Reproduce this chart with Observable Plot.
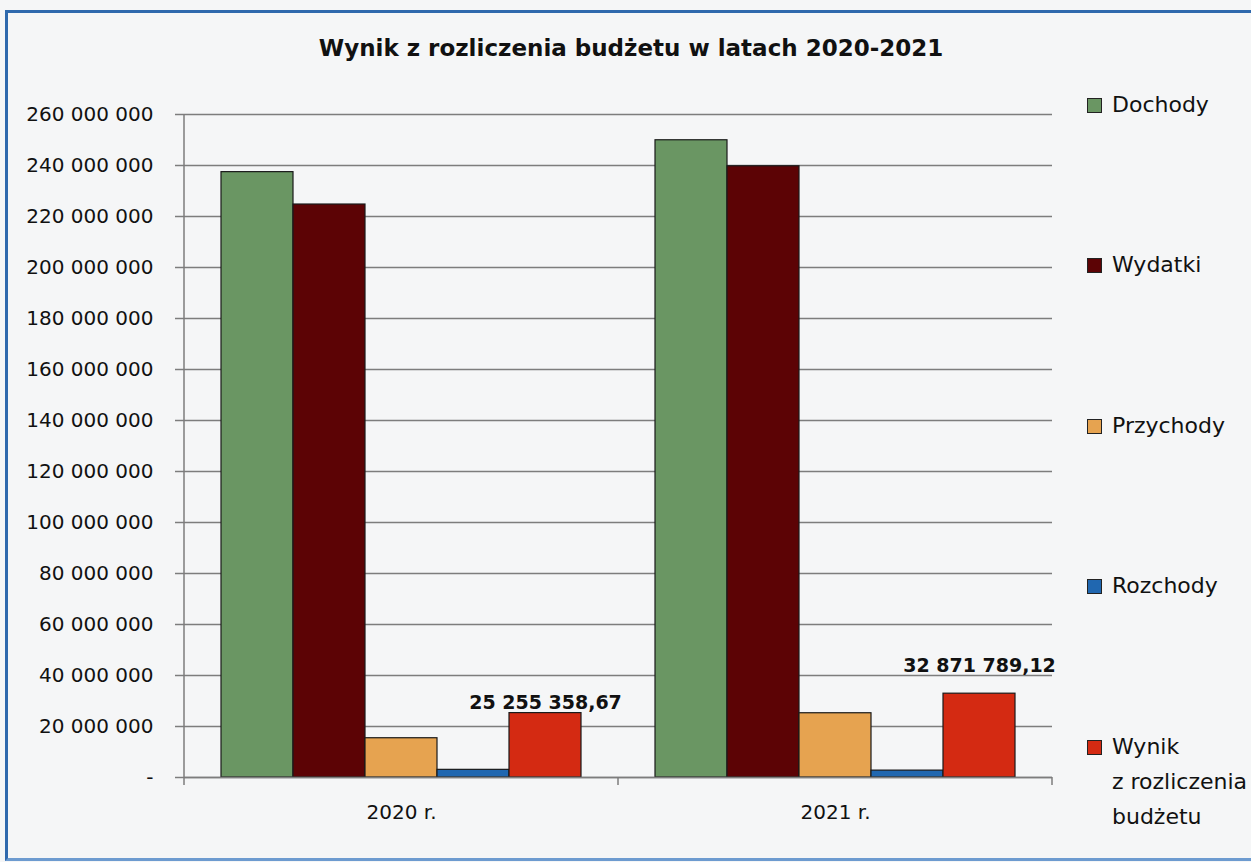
<!DOCTYPE html>
<html><head><meta charset="utf-8">
<script src="https://cdn.jsdelivr.net/npm/d3@7"></script>
<script src="https://cdn.jsdelivr.net/npm/@observablehq/plot@0.6"></script>
<style>
html,body{margin:0;padding:0;background:#f5f6f7;}
#wrap{position:relative;width:1251px;height:862px;overflow:hidden;background:#f5f6f7;font-family:"DejaVu Sans",sans-serif;color:#111;}
#border{position:absolute;left:5px;top:10px;width:1270px;height:845px;border:3px solid #2f69ad;border-right:none;border-bottom-color:#6d9bd0;}
#title{position:absolute;left:0;width:1262px;top:34px;line-height:28px;text-align:center;font-weight:bold;font-size:23px;color:#111;}
#chart{position:absolute;left:0;top:0;}
#legend{position:absolute;left:1087px;top:0;}
.item{position:absolute;left:0;display:flex;align-items:flex-start;font-size:22px;line-height:35px;color:#111;white-space:nowrap;}
.sw{width:13px;height:13px;border:1px solid #222;margin-top:11px;margin-right:10px;flex:none;}
</style>
</head><body>
<div id="wrap">
  <div id="border"></div>
  <div id="title">Wynik z rozliczenia budżetu w latach 2020-2021</div>
  <div id="chart"></div>
  <div id="legend"></div>
</div>
<script>
const years = ["2020 r.", "2021 r."];
const series = ["Dochody", "Wydatki", "Przychody", "Rozchody", "Wynik z rozliczenia budżetu"];
const legendLabels = ["Dochody", "Wydatki", "Przychody", "Rozchody", "Wynik<br>z rozliczenia<br>budżetu"];
const colors = ["#6a9663", "#5c0305", "#e6a350", "#2067b0", "#d42a12"];
const values2020 = [237400000, 224700000, 15400000, 3000000, 25255358.67];
const values2021 = [249900000, 239700000, 25200000, 2700000, 32871789.12];
const yTicks = [0, 20000000, 40000000, 60000000, 80000000, 100000000, 120000000, 140000000, 160000000, 180000000, 200000000, 220000000, 240000000, 260000000];

const valuesByYear = [values2020, values2021];
const data = years.flatMap((yr, yi) => series.map((s, si) => ({year: yr, series: s, value: valuesByYear[yi][si]})));

const pl = d3.formatLocale({decimal: ",", thousands: "\u00a0", grouping: [3], currency: ["", ""]});
const fmtInt = pl.format(",.0f");
const fmtDec = pl.format(",.2f");
const tickFmt = d => d === 0 ? "-" : fmtInt(d);

const wynik = series[4];
const w2020 = data.filter(d => d.series === wynik && d.year === years[0]);
const w2021 = data.filter(d => d.series === wynik && d.year === years[1]);

const gridColor = "#7d7d7d";

const plot = Plot.plot({
  width: 1251,
  height: 862,
  marginLeft: 183,
  marginRight: 199,
  marginTop: 114,
  marginBottom: 85,
  style: {background: "transparent", fontFamily: "DejaVu Sans", fontSize: "20px", color: "#111", overflow: "visible"},
  fx: {domain: years, padding: 0, label: null},
  x: {domain: series, paddingInner: 0, paddingOuter: 0.5, axis: null},
  y: {domain: [0, 260000000], label: null},
  color: {domain: series, range: colors},
  marks: [
    Plot.gridY(yTicks, {stroke: gridColor, strokeOpacity: 1, strokeWidth: 1.5}),
    Plot.barY(data, {fx: "year", x: "series", y: "value", fill: "series", stroke: "#1a1a1a", strokeWidth: 1.2}),
    Plot.ruleY([0], {stroke: gridColor, strokeWidth: 1.5}),
    Plot.axisY(yTicks, {tickSize: 9, tickPadding: 22, tickFormat: tickFmt, stroke: gridColor, strokeWidth: 1.5, fill: "#111", fontSize: 20, label: null}),
    Plot.axisFx({anchor: "bottom", tickSize: 0, tickPadding: 27, fontSize: 20, fill: "#111", label: null}),
    Plot.text(w2020, {fx: "year", x: "series", y: "value", text: d => fmtDec(d.value), fontWeight: "bold", fontSize: 19, lineAnchor: "bottom", dy: -4, fill: "#111"}),
    Plot.text(w2021, {fx: "year", x: "series", y: "value", text: d => fmtDec(d.value), fontWeight: "bold", fontSize: 19, lineAnchor: "bottom", dy: -22, fill: "#111"})
  ]
});
document.getElementById("chart").appendChild(plot);

// axis line and category boundary ticks, positioned from the plot's own scales
const fx = plot.scale("fx");
const ys = plot.scale("y");
const svg = d3.select(plot.tagName.toLowerCase() === "svg" ? plot : plot.querySelector("svg"));
const yBase = ys.apply(0);
const yTop = ys.apply(yTicks[yTicks.length - 1]);
const xLeft = fx.apply(years[0]);
const bw = fx.bandwidth !== undefined ? fx.bandwidth : (fx.range[1] - fx.range[0]) / years.length;
const edges = [xLeft, ...years.map(y => fx.apply(y) + bw)];
const g = svg.append("g").attr("stroke", gridColor).attr("stroke-width", 1.5);
g.append("line").attr("x1", xLeft).attr("x2", xLeft).attr("y1", yTop).attr("y2", yBase);
edges.forEach(x => g.append("line").attr("x1", x).attr("x2", x).attr("y1", yBase).attr("y2", yBase + 8));

// legend
const legend = document.getElementById("legend");
series.forEach((s, i) => {
  const it = document.createElement("div");
  it.className = "item";
  it.style.top = (86.5 + i * 160.5) + "px";
  it.innerHTML = `<div class="sw" style="background:${colors[i]}"></div><div>${legendLabels[i]}</div>`;
  legend.appendChild(it);
});
</script>
</body></html>
